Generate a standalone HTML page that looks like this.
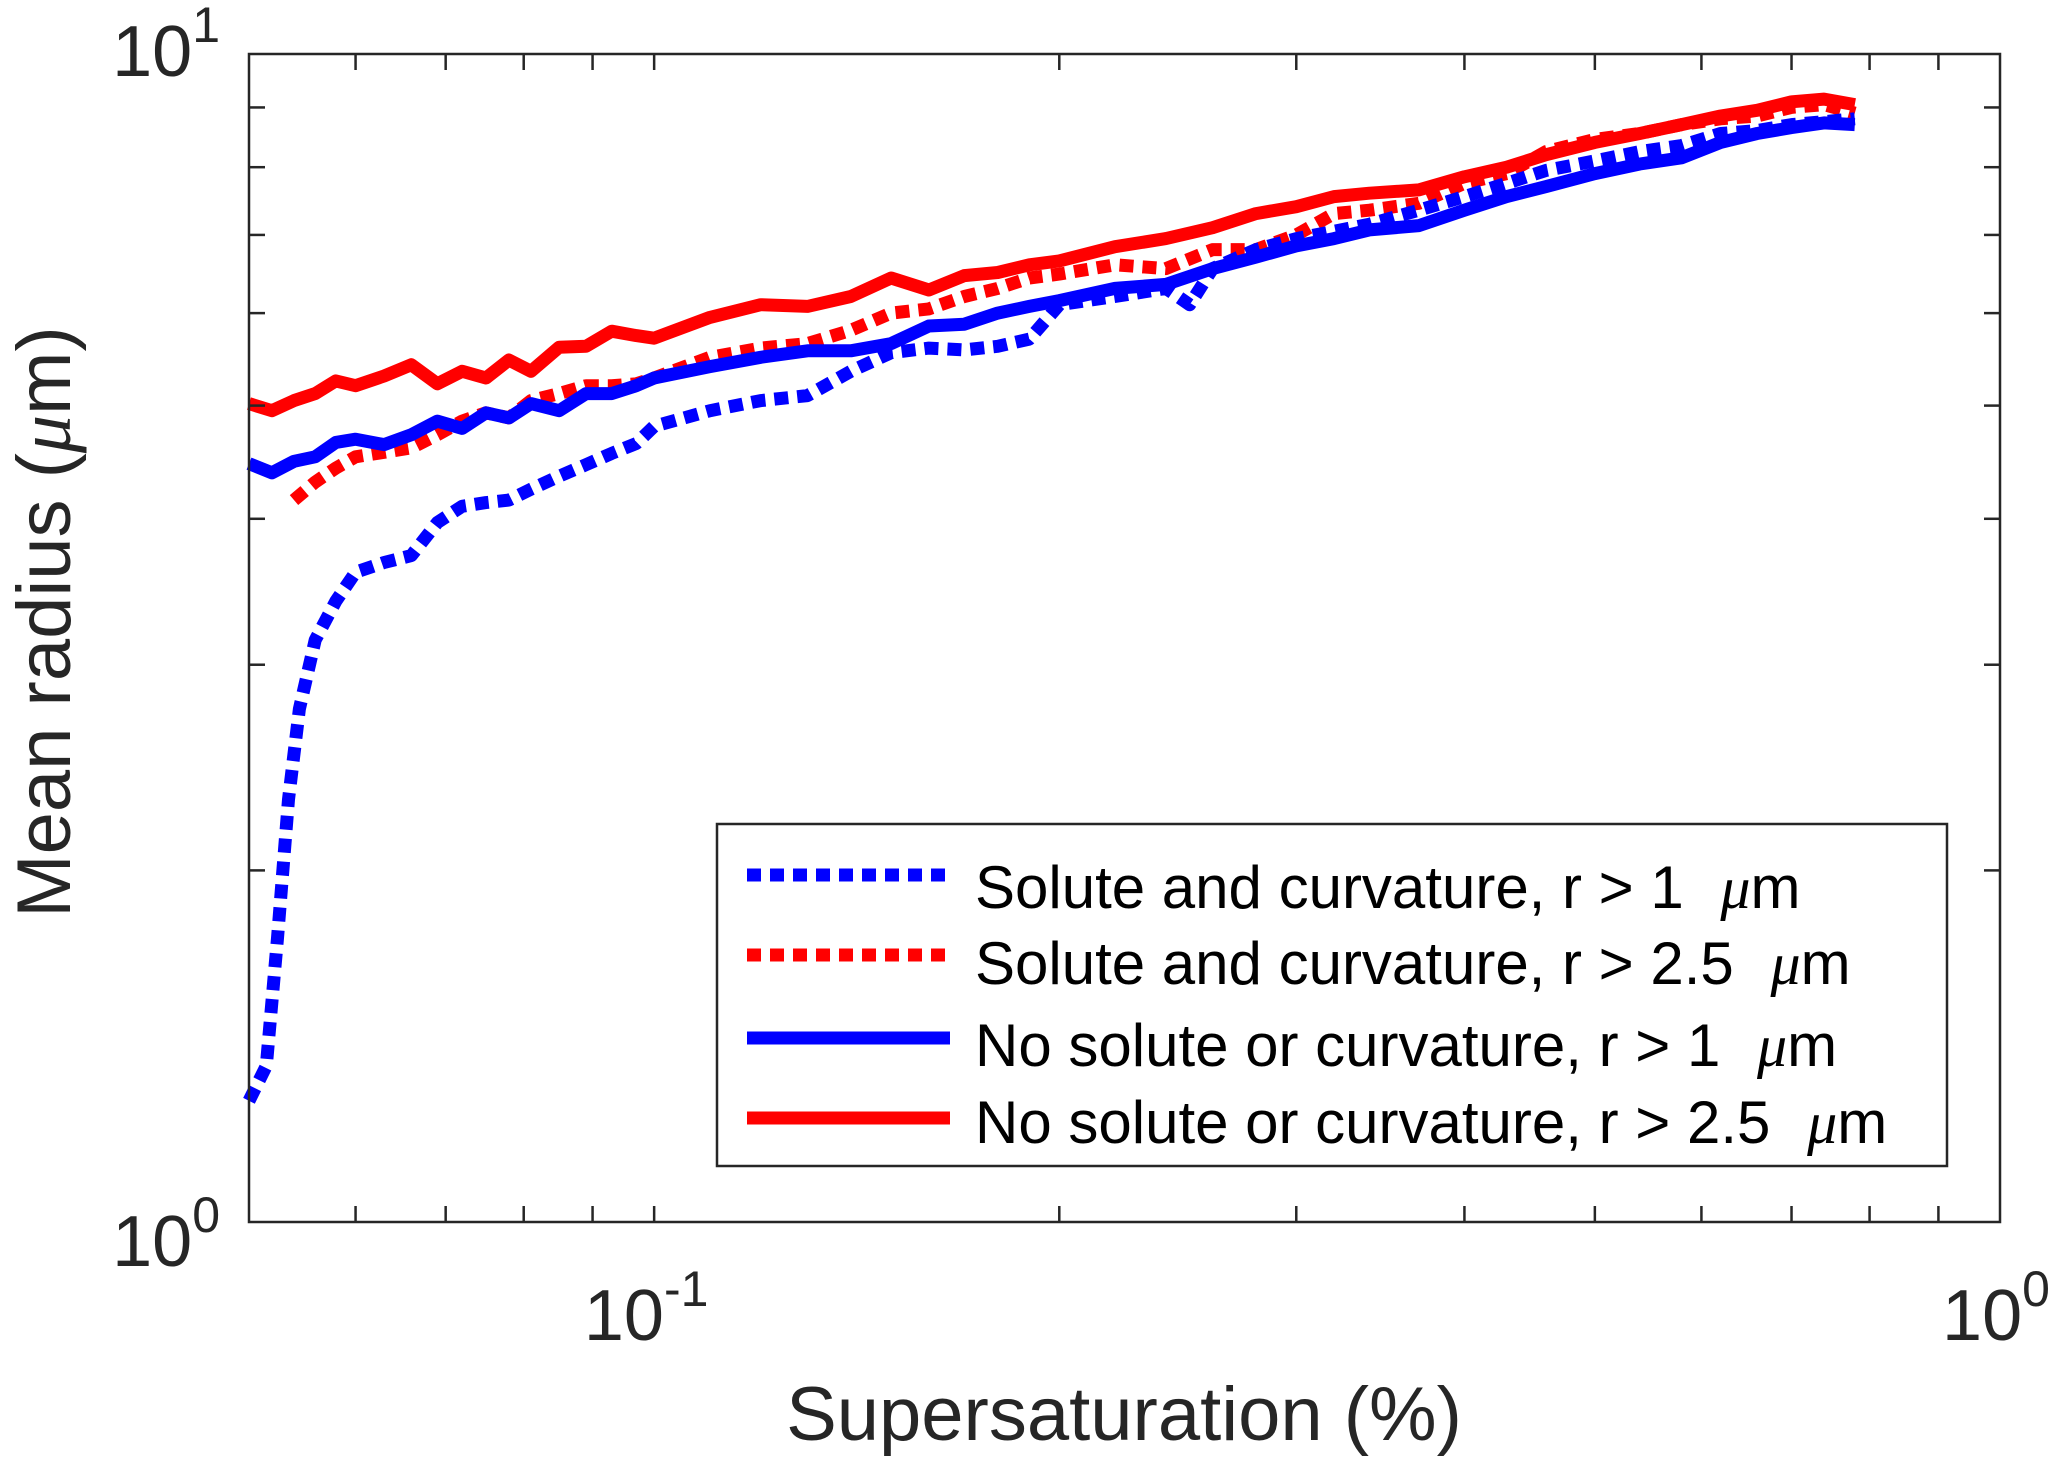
<!DOCTYPE html>
<html><head><meta charset="utf-8"><style>
html,body{margin:0;padding:0;background:#fff}
svg{display:block}
text{font-family:"Liberation Sans",sans-serif}
</style></head><body>
<svg id="chart" width="2067" height="1471" xmlns="http://www.w3.org/2000/svg">
<rect x="0" y="0" width="2067" height="1471" fill="#fff"/>
<g id="series"></g>
<g id="axes"></g>
<text x="1124" y="1440" font-size="76" fill="#262626" text-anchor="middle">Supersaturation (%)</text>
<text transform="translate(70,622) rotate(-90)" font-size="76" fill="#262626" text-anchor="middle">Mean radius (<tspan font-family="Liberation Serif" font-style="italic">μ</tspan>m)</text>
<g>
<rect x="717" y="824" width="1230" height="342" fill="#fff" stroke="#262626" stroke-width="2.5"/>
<line x1="747" y1="875" x2="950" y2="875" stroke="#0000ff" stroke-width="13" stroke-dasharray="14 9"/>
<line x1="747" y1="955" x2="950" y2="955" stroke="#ff0000" stroke-width="13" stroke-dasharray="14 9"/>
<line x1="747" y1="1038" x2="950" y2="1038" stroke="#0000ff" stroke-width="13"/>
<line x1="747" y1="1118" x2="950" y2="1118" stroke="#ff0000" stroke-width="13"/>
<text x="975" y="908" font-size="60" fill="#000">Solute and curvature, r &gt; 1 <tspan dx="20" font-family="Liberation Serif" font-style="italic">μ</tspan>m</text>
<text x="975" y="984" font-size="60" fill="#000">Solute and curvature, r &gt; 2.5 <tspan dx="20" font-family="Liberation Serif" font-style="italic">μ</tspan>m</text>
<text x="975" y="1066" font-size="60" fill="#000">No solute or curvature, r &gt; 1 <tspan dx="20" font-family="Liberation Serif" font-style="italic">μ</tspan>m</text>
<text x="975" y="1143" font-size="60" fill="#000">No solute or curvature, r &gt; 2.5 <tspan dx="20" font-family="Liberation Serif" font-style="italic">μ</tspan>m</text>
</g>
</svg>
<script>
const gridX = [0.050,0.052,0.054,0.056,0.058,0.060,0.063,0.066,0.069,0.072,0.075,0.078,0.081,0.085,0.089,0.093,0.097,0.10,0.11,0.12,0.13,0.14,0.15,0.16,0.17,0.18,0.19,0.20,0.22,0.24,0.26,0.28,0.30,0.32,0.34,0.37,0.40,0.43,0.46,0.50,0.54,0.58,0.62,0.66,0.70,0.74,0.78];
const redSolidY = [5.02,4.95,5.05,5.12,5.25,5.2,5.3,5.42,5.22,5.35,5.28,5.47,5.35,5.61,5.62,5.79,5.74,5.71,5.95,6.1,6.08,6.2,6.43,6.28,6.46,6.5,6.6,6.65,6.84,6.95,7.1,7.3,7.4,7.55,7.6,7.65,7.85,8.0,8.2,8.4,8.55,8.7,8.85,8.95,9.1,9.15,9.05];
const blueSolidY = [4.46,4.38,4.48,4.52,4.65,4.68,4.63,4.72,4.85,4.78,4.93,4.88,5.02,4.95,5.12,5.12,5.2,5.28,5.4,5.5,5.57,5.57,5.65,5.85,5.87,6.0,6.08,6.15,6.3,6.35,6.55,6.7,6.85,6.95,7.07,7.13,7.35,7.55,7.7,7.9,8.05,8.15,8.4,8.55,8.65,8.73,8.7];
const redDotX = [0.054,0.056,0.058,0.060,0.063,0.066,0.069,0.072,0.075,0.078,0.081,0.085,0.089,0.093,0.097,0.10,0.11,0.12,0.13,0.14,0.15,0.16,0.17,0.18,0.19,0.20,0.22,0.24,0.26,0.28,0.30,0.32,0.34,0.37,0.40,0.43,0.46,0.50,0.54,0.58,0.62,0.66,0.70,0.74,0.78];
const redDotY = [4.15,4.3,4.42,4.52,4.56,4.6,4.72,4.85,4.93,4.88,5.05,5.12,5.2,5.2,5.22,5.28,5.5,5.6,5.65,5.8,6.0,6.05,6.2,6.3,6.43,6.48,6.6,6.55,6.8,6.8,7.0,7.3,7.35,7.45,7.75,7.9,8.25,8.45,8.55,8.7,8.8,8.85,9.0,9.05,8.9];
const blueDotX = [0.050,0.0515,0.0525,0.0535,0.0545,0.056,0.058,0.060,0.063,0.066,0.069,0.072,0.075,0.078,0.081,0.085,0.089,0.093,0.097,0.10,0.11,0.12,0.13,0.14,0.15,0.16,0.17,0.18,0.19,0.20,0.22,0.24,0.25,0.26,0.28,0.30,0.32,0.34,0.37,0.40,0.43,0.46,0.50,0.54,0.58,0.62,0.66,0.70,0.74,0.78];
const blueDotY = [1.27,1.36,1.75,2.3,2.75,3.15,3.4,3.6,3.67,3.72,3.97,4.1,4.13,4.15,4.24,4.35,4.45,4.55,4.64,4.8,4.95,5.05,5.1,5.35,5.55,5.6,5.58,5.62,5.7,6.1,6.2,6.3,6.1,6.55,6.8,6.95,7.05,7.15,7.35,7.55,7.75,7.95,8.1,8.25,8.35,8.55,8.6,8.7,8.75,8.8];
const xMinorTicks = [0.06,0.07,0.08,0.09,0.1,0.2,0.3,0.4,0.5,0.6,0.7,0.8,0.9];
const yMinorTicks = [2,3,4,5,6,7,8,9];

const L=249,R=2000,T=54,B=1222;
const XMIN=0.05,XMAX=1,YMIN=1,YMAX=10;
const NS='http://www.w3.org/2000/svg';
function sx(v){return L+(Math.log10(v)-Math.log10(XMIN))/(Math.log10(XMAX)-Math.log10(XMIN))*(R-L);}
function sy(v){return B-(Math.log10(v)-Math.log10(YMIN))/(Math.log10(YMAX)-Math.log10(YMIN))*(B-T);}
const sg=document.getElementById('series');
function line(xs,ys,color,dashed,name){
  const p=document.createElementNS(NS,'polyline');
  p.setAttribute('points',xs.map((x,i)=>sx(x).toFixed(1)+','+sy(ys[i]).toFixed(1)).join(' '));
  p.setAttribute('fill','none');p.setAttribute('stroke',color);p.setAttribute('stroke-width','13');
  p.setAttribute('stroke-linejoin','round');
  if(dashed)p.setAttribute('stroke-dasharray','14 9');
  
  
  sg.appendChild(p);
}
line(gridX,redSolidY,'#ff0000',false,'series-red-solid');
line(redDotX,redDotY,'#ff0000',true,'series-red-dotted');
line(gridX,blueSolidY,'#0000ff',false,'series-blue-solid');
line(blueDotX,blueDotY,'#0000ff',true,'series-blue-dotted');

const ax=document.getElementById('axes');
function el(tag,attrs){const e=document.createElementNS(NS,tag);for(const k in attrs)e.setAttribute(k,attrs[k]);ax.appendChild(e);return e;}
const frame=el('rect',{x:L,y:T,width:R-L,height:B-T,fill:'none',stroke:'#262626','stroke-width':2.5});


xMinorTicks.forEach(v=>{
  const x=sx(v);
  const t1=el('line',{x1:x,y1:B,x2:x,y2:B-16,stroke:'#262626','stroke-width':2.5});
  
  
  const t2=el('line',{x1:x,y1:T,x2:x,y2:T+16,stroke:'#262626','stroke-width':2.5});
  
  
});
yMinorTicks.forEach(v=>{
  const y=sy(v);
  const t1=el('line',{x1:L,y1:y,x2:L+16,y2:y,stroke:'#262626','stroke-width':2.5});
  
  
  const t2=el('line',{x1:R,y1:y,x2:R-16,y2:y,stroke:'#262626','stroke-width':2.5});
  
  
});
function pow(x,y,exp,anchor,name){
  const t=el('text',{x:x,y:y,'font-size':72,fill:'#262626','text-anchor':anchor});
  t.innerHTML='10<tspan dy="-34" font-size="50">'+exp+'</tspan>';
  
  
}
pow(220,sy(10)+22,'1','end','y-tick-label-10');
pow(220,sy(1)+44,'0','end','y-tick-label-1');
pow(sx(0.1)-8,1340,'-1','middle','x-tick-label-0.1');
pow(sx(1)-4,1340,'0','middle','x-tick-label-1');
</script>
</body></html>
